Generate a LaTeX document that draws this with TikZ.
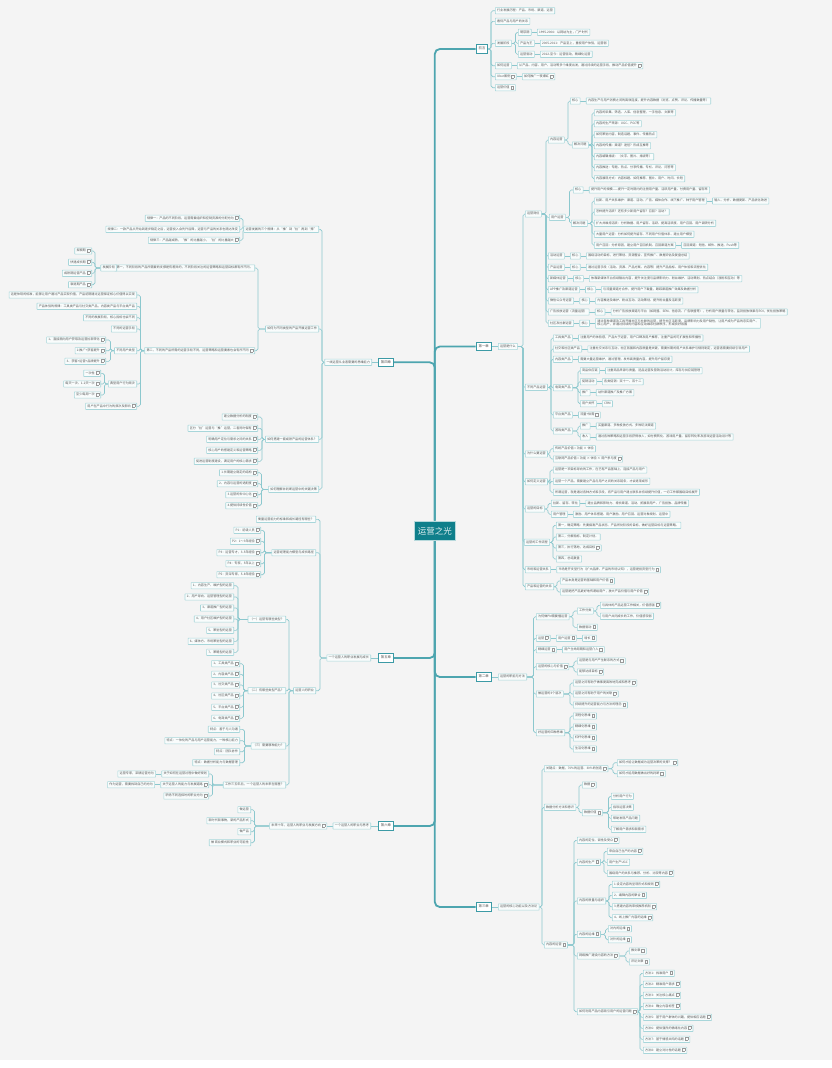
\documentclass[tikz,border=0pt]{standalone}
\usepackage{fontspec}
\setmainfont{Noto Sans CJK SC}
\usetikzlibrary{positioning,backgrounds}
\definecolor{bgc}{HTML}{F4F4F4}
\definecolor{lfb}{HTML}{A8D6DA}
\definecolor{lff}{HTML}{F9FCFC}
\definecolor{cnc}{HTML}{8CC8CE}
\definecolor{mnc}{HTML}{4DA5AF}
\definecolor{chb}{HTML}{3C9AA5}
\definecolor{cenc}{HTML}{0F7F8B}
\definecolor{txc}{HTML}{555555}
\newcommand\nt{\hspace{1pt}{\color{black!40}\fboxsep=0pt\fboxrule=0.25pt\fbox{\rule{0pt}{2.6pt}\hspace{2.6pt}}}}
\tikzset{
  lf/.style={draw=lfb,fill=lff,line width=0.6pt,rounded corners=0.4pt,inner xsep=1.8pt,inner ysep=1.6pt,text height=2.4pt,text depth=0.7pt,font=\fontsize{3.1}{3.6}\selectfont,text=txc},
  ch/.style={draw=chb,fill=white,line width=1pt,inner xsep=2.4pt,inner ysep=2.6pt,text height=2.6pt,text depth=0.8pt,font=\fontsize{3.4}{4}\selectfont,text=txc},
  cenn/.style={fill=cenc,draw=white!70!cenc,line width=0.5pt,minimum width=41pt,minimum height=19.7pt,inner sep=0pt,font=\fontsize{8.5}{10}\selectfont,text=white!88!cenc},
  cn/.style={draw=cnc,line width=0.6pt,rounded corners=1.8pt},
  mn/.style={draw=mnc,line width=1.8pt,rounded corners=5pt},
  R/.style={to path={(\tikztostart.east) -- (\tikztostart.east -| #1,0) |- (\tikztotarget.west)}},
  L/.style={to path={(\tikztostart.west) -- (\tikztostart.west -| #1,0) |- (\tikztotarget.east)}},
}
\newcommand\myR[4]{\node[lf,anchor=west] (#1) at (#2,#3) {#4};}
\newcommand\myL[4]{\node[lf,anchor=east] (#1) at (#2,#3) {#4};}
\newcommand\kids[3]{\begin{scope}[on background layer]\foreach \kk in {#3}{\draw[cn] (#1) to[R=#2] (\kk);}\end{scope}}
\newcommand\kidsl[3]{\begin{scope}[on background layer]\foreach \kk in {#3}{\draw[cn] (#1) to[L=#2] (\kk);}\end{scope}}
\newcommand\lk[2]{\begin{scope}[on background layer]\draw[cn] (#1.east) -- (#2.west);\end{scope}}
\newcommand\lkl[2]{\begin{scope}[on background layer]\draw[cn] (#1.west) -- (#2.east);\end{scope}}
\newcommand\nx[2]{\node[lf,right=5.5pt of #1] (#1x) {#2};\lk{#1}{#1x}}
\newcommand\nxl[2]{\node[lf,left=5.5pt of #1] (#1x) {#2};\lkl{#1}{#1x}}
\begin{document}
\begin{tikzpicture}[x=1pt,y=-1pt]
\useasboundingbox (0,0) rectangle (832,1068);
\begin{scope}[on background layer]
\fill[bgc] (0,0) rectangle (832,1060);
\fill[white] (0,1060) rectangle (832,1068);
\end{scope}
\node[cenn] (C) at (434.8,530.8) {运营之光};
% ===== 前言 =====
\node[ch,anchor=west] (q) at (475.7,49) {前言};
\myR{q1}{495}{10.7}{行业发展历程：产品、市场、渠道、运营}
\myR{q2}{495}{21.3}{看待产品与用户的关系}
\myR{q3}{495}{43.3}{发展阶段}
\myR{q4}{495}{65.7}{如何运营}
\myR{q5}{495}{76.7}{Uber案例\nt}
\myR{q6}{495}{87.7}{运营价值\nt}
\kids{q}{491}{q1,q2,q3,q4,q5,q6}
\myR{q31}{518}{32.3}{萌芽期}
\myR{q32}{518}{43.3}{产品为王}
\myR{q33}{518}{54.3}{运营驱动}
\kids{q3}{515.5}{q31,q32,q33}
\nx{q31}{1995-2004：以网站为主，门户时代}
\nx{q32}{2005-2011：产品至上，重视用户体验，运营弱}
\nx{q33}{2012-至今：运营驱动，精细化运营}
\nx{q4}{从产品、内容、用户、活动等多个维度出发，通过持续的运营手段，推动产品价值提升\nt}
\nx{q5}{如何推广一夜爆红\nt}
% ===== 第一章 =====
\node[ch,anchor=west] (c1) at (475.7,346.5) {第一章};
\myR{a}{498}{346.5}{运营是什么}
\lk{c1}{a}
\myR{a1}{525}{214}{运营岗位}
\myR{a2}{525}{387.3}{不同产品运营}
\myR{a3}{525}{454}{为什么要运营}
\myR{a4}{525}{481.7}{如何定义运营}
\myR{a5}{525}{509}{运营的目标}
\myR{a6}{524}{542.3}{运营的工作流程}
\myR{a7}{525}{569.7}{市场和运营关系}
\myR{a8}{525}{586.7}{产品和运营的关系}
\kids{a}{523}{a1,a2,a3,a4,a5,a6,a7,a8}
\myR{a11}{548}{140}{内容运营}
\myR{a12}{549}{217.3}{用户运营}
\myR{a13}{548}{256}{活动运营}
\myR{a14}{548}{267.3}{产品运营}
\myR{a15}{548}{278.7}{新媒体运营}
\myR{a16}{548}{289.7}{APP推广及渠道运营}
\myR{a17}{548}{301}{微信公众号运营}
\myR{a18}{548}{312}{广告投放运营（流量运营）}
\myR{a19}{548}{323.3}{社区及社群运营}
\kids{a1}{546}{a11,a12,a13,a14,a15,a16,a17,a18,a19}
\myR{a11a}{570}{101}{核心}
\myR{a11b}{572}{145}{解决问题}
\kids{a11}{568}{a11a,a11b}
\nx{a11a}{内容生产与用户消费之间的高效连接，提升内容数据（浏览、点赞、评论、传播数量等）}
\myR{a11b1}{594}{112.7}{内容的采集、筛选、入库、信息整理，一手信息、文案等}
\myR{a11b2}{594}{123.7}{内容的生产来源：UGC、PGC等}
\myR{a11b3}{594}{134.7}{如何策划内容，制造话题、事件、传播热点}
\myR{a11b4}{594}{145.7}{内容的传播：渠道？途径？形成互推等}
\myR{a11b5}{594}{156.7}{内容编辑排版：（文字、图片、排版等）}
\myR{a11b6}{594}{167.7}{内容推送：专题、热点、分享传播、专栏、评论、问答等}
\myR{a11b7}{594}{178.7}{内容展现方式：内容标题、如何推荐、图片、用户、时间、长短}
\kids{a11b}{592}{a11b1,a11b2,a11b3,a11b4,a11b5,a11b6,a11b7}
\myR{a12a}{573}{190}{核心}
\myR{a12b}{571}{223.3}{解决问题}
\kids{a12}{569.5}{a12a,a12b}
\nx{a12a}{提升用户的规模——提升一定时期内的注册用户量、活跃用户量、付费用户量、留存率}
\myR{a12b1}{594}{201}{拉新、用户关系维护：渠道、活动、广告、媒体合作、线下推广、种子用户管理}
\myR{a12b2}{594}{212}{怎样提升活跃？还有多少新用户留存？召回？活动？}
\myR{a12b3}{594}{223.3}{扩大并维持活跃：分析数据、用户留存、活跃、提高活跃度、用户召回、用户调研分析}
\myR{a12b4}{594}{234.3}{大量用户运营：分析如何提升留存、不同用户价值体系、建立用户模型}
\myR{a12b5}{594}{245.3}{用户召回：分析原因，建立用户召回机制、召回渠道方案}
\kids{a12b}{592}{a12b1,a12b2,a12b3,a12b4,a12b5}
\nx{a12b1}{输入、分析、数据更新、产品优化改进}
\nx{a12b5}{召回渠道：短信、邮件、推送、Push等}
\nx{a13}{核心}\nx{a13x}{围绕活动的目标，进行策划、资源整合、宣传推广、数据评估及复盘总结}
\nx{a14}{核心}\nx{a14x}{通过运营手段（活动、资源、产品方案、内容等）提升产品指标、用户体验和流程优化}
\nx{a15}{核心}\nx{a15x}{依靠新媒体平台持续输出内容，提升关注度与品牌影响力、粉丝维护、活动策划、热点结合（涨粉和互动）等}
\nx{a16}{核心}\nx{a16x}{与流量渠道方合作，提升用户下载量，跟踪渠道推广效果及数据分析}
\nx{a17}{核心}\nx{a17x}{内容推送及维护、粉丝互动、活动策划、提升粉丝量及活跃度}
\nx{a18}{核心}\nx{a18x}{分析广告投放渠道与平台（如网盟、SEM、信息流、广告联盟等），分析用户质量与转化，监测投放效果与ROI，优化投放策略}
\nx{a19}{核心}
\node[lf,right=5.5pt of a19x,align=left,text height=6pt] (a19xx) {通过各种渠道及工具开展社区与社群的运营，提升社区活跃度、品牌影响力及用户黏性，让用户成为产品的忠实用户、\\核心用户，并通过持续的内容和互动维系社群秩序，形成良好氛围};
\lk{a19x}{a19xx}
\myR{a21}{553}{338}{工具类产品}
\myR{a22}{553}{349}{社交和社区类产品}
\myR{a23}{553}{359.3}{内容类产品}
\myR{a24}{553}{387.7}{电商类产品}
\myR{a25}{553}{415}{平台类产品}
\myR{a26}{553}{431}{游戏类产品}
\kids{a2}{551}{a21,a22,a23,a24,a25,a26}
\nx{a21}{注重用户的体验感，产品大于运营，用户口碑及用户推荐，注重产品的可扩展性和传播性}
\nx{a22}{注重社交关系与互动，社区氛围和内容质量是关键，需要长期的用户关系维护与规则制定，运营者需要持续引导用户}
\nx{a23}{需要大量运营维护，通过管理、发布高质量内容，提升用户留存度}
\myR{a241}{580}{370.7}{商品供应链}
\myR{a242}{580}{381.7}{促销活动}
\myR{a243}{580}{392.7}{推广}
\myR{a244}{580}{403.7}{用户关怀}
\kids{a24}{578}{a241,a242,a243,a244}
\nx{a241}{注重商品来源与质量，选品运营及营销活动设计，库存与供应链管理}
\nx{a242}{各类促销：双十一、双十二}
\nx{a243}{站外渠道推广及推广方案}
\nx{a244}{CRM}
\nx{a25}{流量+供需\nt}
\myR{a261}{580}{426}{推广}
\myR{a262}{580}{437}{收入}
\kids{a26}{578}{a261,a262}
\nx{a261}{买量渠道、多种投放方式、多种玩法渠道}
\nx{a262}{通过各种策略和运营手段获得收入，如付费转化、游戏用户量、留存转化率及游戏运营活动设计等}
\myR{a31}{553}{448.7}{传统产品价值 = 功能 × 体验}
\myR{a32}{553}{459}{互联网产品价值 = 功能 × 体验 × 用户参与度\nt}
\kids{a3}{550}{a31,a32}
\myR{a41}{553}{470}{运营是一项目标导向的工作，在已有产品基础上，连接产品与用户}
\myR{a42}{553}{481.3}{运营一个产品，需要建立产品与用户之间的关系链条，才会逐渐成形}
\myR{a43}{553}{492.3}{所谓运营，就是通过各种方式和手段，将产品与用户建立联系并持续提升价值，一切工作都围绕目标展开}
\kids{a4}{550}{a41,a42,a43}
\myR{a51}{551}{503.3}{拉新、留存、转化}
\myR{a52}{551}{514.3}{用户管理}
\kids{a5}{548}{a51,a52}
\nx{a51}{建立品牌和影响力、增长渠道、活动、拓展新用户、广告投放、品牌传播}
\nx{a52}{激励、用户体系搭建、用户激励、用户召回、运营对象规划、运营中}
\myR{a61}{556}{525.3}{第一，确定策略：先要搞清产品状态、产品所处阶段的目标，做好运营目标与运营策略。}
\myR{a62}{556}{537}{第二，分解指标，制定计划。}
\myR{a63}{556}{548}{第三，执行落地，达成目标\nt}
\myR{a64}{556}{559}{第四，总结复盘}
\kids{a6}{553}{a61,a62,a63,a64}
\nx{a7}{市场是开支型行为（扩大品牌、产品的市场认知），运营是投资型行为\nt}
\myR{a81}{560}{581}{产品本身是运营的基础和用户价值\nt}
\myR{a82}{560}{592}{运营是把产品更好地传递给用户，放大产品价值与用户价值\nt}
\kids{a8}{557}{a81,a82}
% ===== 第二章 =====
\node[ch,anchor=west] (c2) at (475.7,677) {第二章};
\myR{b}{498}{677}{运营的职能与方法}
\lk{c2}{b}
\myR{b1}{536}{616.7}{为何做PM需要懂运营}
\myR{b2}{536}{638.3}{运营\nt}
\myR{b3}{536}{649.7}{精细运营\nt}
\myR{b4}{536}{666.7}{运营的核心与价值\nt}
\myR{b5}{536}{694}{做运营的3个层次}
\myR{b6}{536}{732.7}{好运营的四种思维}
\kids{b}{533.5}{b1,b2,b3,b4,b5,b6}
\myR{b11}{577}{611}{工作分类}
\myR{b12}{577}{627.3}{数据驱动\nt}
\kids{b1}{573}{b11,b12}
\myR{b111}{600}{605.3}{与具体的产品运营工作相关，价值感强\nt}
\myR{b112}{600}{616.3}{与用户共同成长的工作，价值感较弱}
\kids{b11}{597}{b111,b112}
\nx{b2}{用户运营\nt}\nx{b2x}{增长\nt}
\nx{b3}{用户生命周期和运营介入\nt}
\myR{b41}{577}{661}{运营是与用户产生联系的方式\nt}
\myR{b42}{577}{672}{能够达成目标\nt}
\kids{b4}{574}{b41,b42}
\myR{b51}{573}{683}{运营之间有助于做事更高效地完成和思考\nt}
\myR{b52}{573}{694}{运营之间有助于用户的关联\nt}
\myR{b53}{573}{705}{持续提升的运营能力与方法的理念\nt}
\kids{b5}{570}{b51,b52,b53}
\myR{b61}{573}{716}{流程化思维\nt}
\myR{b62}{573}{727}{精细化思维\nt}
\myR{b63}{573}{738}{杠杆化思维\nt}
\myR{b64}{573}{749}{生活化思维\nt}
\kids{b6}{570}{b61,b62,b63,b64}
% ===== 第三章 =====
\node[ch,anchor=west] (c3) at (475.7,907) {第三章};
\myR{d}{498}{907}{运营的核心功能以及方法论}
\lk{c3}{d}
\myR{d1}{544}{768.7}{关键点：数据，70\%的运营、30\%的创造\nt}
\myR{d2}{544}{807.3}{数据分析方法和意识}
\myR{d3}{544}{945}{内容的运营\nt}
\kids{d}{542}{d1,d2,d3}
\myR{d11}{617}{762.7}{如何才能让数据成为运营决策的支撑？\nt}
\myR{d12}{617}{773.7}{如何才能用数据做出好的判断\nt}
\kids{d1}{613}{d11,d12}
\myR{d21}{582}{785}{数据\nt}
\myR{d22}{582}{812.7}{数据价值\nt}
\kids{d2}{579}{d21,d22}
\myR{d221}{611}{796.3}{分析用户行为}
\myR{d222}{611}{807.3}{指导运营决策}
\myR{d223}{611}{818.3}{帮助发现产品问题}
\myR{d224}{611}{829.3}{了解用户需求和新需求}
\kids{d22}{608.5}{d221,d222,d223,d224}
\myR{d31}{577}{840.3}{内容的定位、调性及受众\nt}
\myR{d32}{577}{862.3}{内容的生产\nt}
\myR{d33}{577}{901}{内容的质量与组织}
\myR{d34}{577}{934.3}{内容的运维\nt}
\myR{d35}{577}{956}{网络推广建设内容的方法\nt}
\myR{d36}{577}{1011.7}{如何利用产品内容吸引用户的运营问题\nt}
\kids{d3}{574}{d31,d32,d33,d34,d35,d36}
\myR{d321}{607}{851.3}{来自自己生产的内容\nt}
\myR{d322}{607}{862.3}{用户生产UGC}
\myR{d323}{607}{873.3}{围绕用户的关系与推荐、分析、比较等内容\nt}
\kids{d32}{604}{d321,d322,d323}
\myR{d331}{612}{884.3}{1.设定内容的呈现形式和规则\nt}
\myR{d332}{612}{895.3}{2、编辑内容的聚合\nt}
\myR{d333}{612}{906.7}{3.搭建内容的审核推荐机制\nt}
\myR{d334}{612}{917.7}{4、线上推广内容的运维\nt}
\kids{d33}{609}{d331,d332,d333,d334}
\myR{d341}{608}{928.7}{对内的运维\nt}
\myR{d342}{608}{939.7}{对外的运维\nt}
\kids{d34}{605.5}{d341,d342}
\myR{d351}{629}{951}{推文章\nt}
\myR{d352}{629}{962}{评论文章\nt}
\kids{d35}{626}{d351,d352}
\myR{d361}{643}{973.3}{方法1：找准用户\nt}
\myR{d362}{643}{984.3}{方法2：精准用户需求\nt}
\myR{d363}{643}{995.3}{方法3：关注核心痛点\nt}
\myR{d364}{643}{1006.3}{方法4：确立内容标签\nt}
\myR{d365}{643}{1017.3}{方法5：基于用户群体的兴趣，提供相应话题\nt}
\myR{d366}{643}{1028.3}{方法6：提供强烈的情绪化内容\nt}
\myR{d367}{643}{1039.3}{方法7：基于情感共鸣的话题\nt}
\myR{d368}{643}{1050.3}{方法8：建立对比性的话题\nt}
\kids{d36}{640}{d361,d362,d363,d364,d365,d366,d367,d368}
% ===== 第四章 =====
\node[ch,anchor=east] (c4) at (394,362.3) {第四章};
\myL{e}{372}{362.3}{一线运营从业者需要的思维能力}
\lkl{c4}{e}
\myL{e1}{319}{229.3}{运营发展的三个规律：从“推”到“拉”再到“撑”}
\myL{e2}{319}{329}{如何为不同类型的产品开展运营工作}
\myL{e3}{319}{439.3}{如何搭建一套成熟产品的运营体系？}
\myL{e4}{319}{489.3}{如何理解并判断运营中的关键决策}
\kidsl{e}{322}{e1,e2,e3,e4}
\myL{e11}{240}{218.3}{规律一：产品的不同阶段，运营需要组织和控制资源的分配方向\nt}
\myL{e12}{240}{229.3}{规律二：一款产品从开始到逐步稳定之后，运营投入会先升后降，运营与产品的关系也随之改变}
\myL{e13}{240}{240.3}{规律三：产品越成熟，“推”的比重越小，“拉”的比重越大\nt}
\kidsl{e1}{243}{e11,e12,e13}
\myL{e21}{255}{268}{第一，不同阶段的产品所需要的支撑是有差异的，不同阶段关注的运营策略和运营目标都有所不同。}
\myL{e22}{255}{350.7}{第二，不同的产品所需的运营手段不同，运营策略和运营要素也会有所不同\nt}
\kidsl{e2}{258}{e21,e22}
\myL{e21x}{117}{268}{发展阶段}
\lkl{e21}{e21x}
\myL{e21x1}{92}{251}{探索期\nt}
\myL{e21x2}{92}{262.3}{快速成长期\nt}
\myL{e21x3}{92}{273.3}{成熟期运营产品\nt}
\myL{e21x4}{92}{284.7}{衰退期产品\nt}
\kidsl{e21x}{95}{e21x1,e21x2,e21x3,e21x4}
\myL{e221}{137}{295}{这是体现的标准，能够让用户通过产品实现价值，产品初期通过运营保证核心价值得以实现}
\myL{e222}{137}{306.3}{产品体验的规律：工具类产品与社交类产品，内容类产品与平台类产品}
\myL{e223}{137}{317.7}{不同的发展阶段，核心指标也会不同}
\myL{e224}{137}{329}{不同的运营手段}
\myL{e225}{137}{350.7}{不同用户类型}
\myL{e226}{137}{384}{典型用户行为频次}
\myL{e227}{137}{406.3}{用户在产品中行为的频次及影响\nt}
\kidsl{e22}{140.5}{e221,e222,e223,e224,e225,e226,e227}
\myL{e2251}{106}{340}{1、直接面向用户获取及运营拉新转化\nt}
\myL{e2252}{106}{350.7}{2.推广+获客提升\nt}
\myL{e2253}{106}{361.3}{3、获客+运营+品牌提升\nt}
\kidsl{e225}{110.5}{e2251,e2252,e2253}
\myL{e2261}{101}{373.3}{一次性\nt}
\myL{e2262}{101}{384}{每天一次、1-2天一次\nt}
\myL{e2263}{101}{395}{至少每周一次\nt}
\kidsl{e226}{104.5}{e2261,e2262,e2263}
\myL{e31}{258}{417}{建立数据分析的制度\nt}
\myL{e32}{258}{428.3}{区分“拉”运营与“推”运营，二者同时保有\nt}
\myL{e33}{258}{439.3}{明确用户定位与需求之间的关系\nt}
\myL{e34}{258}{450.3}{核心用户的搭建定义和运营策略\nt}
\myL{e35}{258}{461.3}{促进运营制度建设，满足用户的核心需求\nt}
\kidsl{e3}{262}{e31,e32,e33,e34,e35}
\myL{e41}{258}{472.7}{1.长期建立稳定的结构\nt}
\myL{e42}{258}{483.7}{2、内容与运营的适配度\nt}
\myL{e43}{258}{494.7}{3.运营的去中心化\nt}
\myL{e44}{258}{505.7}{4.提供持续性价值\nt}
\kidsl{e4}{261.5}{e41,e42,e43,e44}
% ===== 第五章 =====
\node[ch,anchor=east] (c5) at (394,658) {第五章};
\myL{f}{371}{658}{一个运营人的职业发展与成长}
\lkl{c5}{f}
\myL{f1}{316}{519.3}{衡量运营能力的标准和成长路径有哪些？}
\myL{f2}{316}{552.7}{运营经理能力模型与成长路径}
\myL{f3}{316}{690.7}{运营人的职业}
\kidsl{f}{320}{f1,f2,f3}
\myL{f21}{261}{530.3}{P1：初级人员\nt}
\myL{f22}{261}{541.3}{P2：1～3年经验\nt}
\myL{f23}{261}{552.7}{P3：运营专才，3-5年经验\nt}
\myL{f24}{261}{563.7}{P4：专家，5年以上\nt}
\myL{f25}{261}{574.7}{P5：资深专家，5-8年经验\nt}
\kidsl{f2}{264.5}{f21,f22,f23,f24,f25}
\myL{f31}{286}{619.3}{（一）运营有哪些类型？}
\myL{f32}{286}{690.7}{（二）有哪些类型产品？}
\myL{f33}{286}{746}{（三）需要哪种能力？}
\myL{f34}{286}{785}{工作三五年后，一个运营人的未来在哪里？}
\kidsl{f3}{289}{f31,f32,f33,f34}
\myL{f311}{234}{585.7}{1、内容生产、维护型的运营}
\myL{f312}{234}{597}{2、用户导向、运营管理型的运营}
\myL{f313}{234}{608}{3、渠道推广型的运营}
\myL{f314}{234}{619}{4、用户社区维护型的运营}
\myL{f315}{234}{630.3}{5、策划型的运营}
\myL{f316}{234}{641.3}{6、媒体方、市场策划型的运营}
\myL{f317}{234}{652.3}{7、策略型的运营}
\kidsl{f31}{238}{f311,f312,f313,f314,f315,f316,f317}
\myL{f321}{240}{663.7}{1、工具类产品\nt}
\myL{f322}{240}{674.3}{2、内容类产品\nt}
\myL{f323}{240}{685}{3、社交类产品\nt}
\myL{f324}{240}{696}{4、社区类产品\nt}
\myL{f325}{240}{707.3}{5、平台类产品\nt}
\myL{f326}{240}{718.3}{6、电商类产品\nt}
\kidsl{f32}{243.5}{f321,f322,f323,f324,f325,f326}
\myL{f331}{240}{729.3}{特点：善于与人沟通}
\myL{f332}{240}{740.7}{特点：一体化的产品与用户运营能力，一种核心能力}
\myL{f333}{240}{751.7}{特点：团队协作}
\myL{f334}{240}{762.7}{特点：数据分析能力与数据管理}
\kidsl{f33}{244.5}{f331,f332,f333,f334}
\myL{f341}{209}{774}{关于如何在运营过程中做好规划}
\myL{f342}{209}{784.7}{关于运营人的能力与发展道路\nt}
\myL{f343}{209}{796}{职场不同选择时的职业方向\nt}
\kidsl{f34}{212.5}{f341,f342,f343}
\nxl{f341}{运营专家，深耕运营方向}
\nxl{f342}{作为运营，需要找到自己的方向}
% ===== 第六章 =====
\node[ch,anchor=east] (c6) at (394,826) {第六章};
\myL{g}{371}{826}{一个运营人的职业与思考}
\lkl{c6}{g}
\nxl{g}{未来十年，运营人的职业与发展方向\nt}
\myL{g1}{251}{809.7}{做运营}
\myL{g2}{251}{820.7}{新时代新事物，新的产品形式}
\myL{g3}{251}{831.7}{做产品}
\myL{g4}{251}{842.7}{做 商业模式和职业的可能性}
\kidsl{gx}{254.5}{g1,g2,g3,g4}
% ===== main branches =====
\begin{scope}[on background layer]
\draw[mn] (C.north) |- (q.west);
\draw[mn] (C.north) |- (c1.west);
\draw[mn] (C.north) |- (c4.east);
\draw[mn] (C.south) |- (c2.west);
\draw[mn] (C.south) |- (c3.west);
\draw[mn] (C.south) |- (c5.east);
\draw[mn] (C.south) |- (c6.east);
\end{scope}
\end{tikzpicture}
\end{document}
